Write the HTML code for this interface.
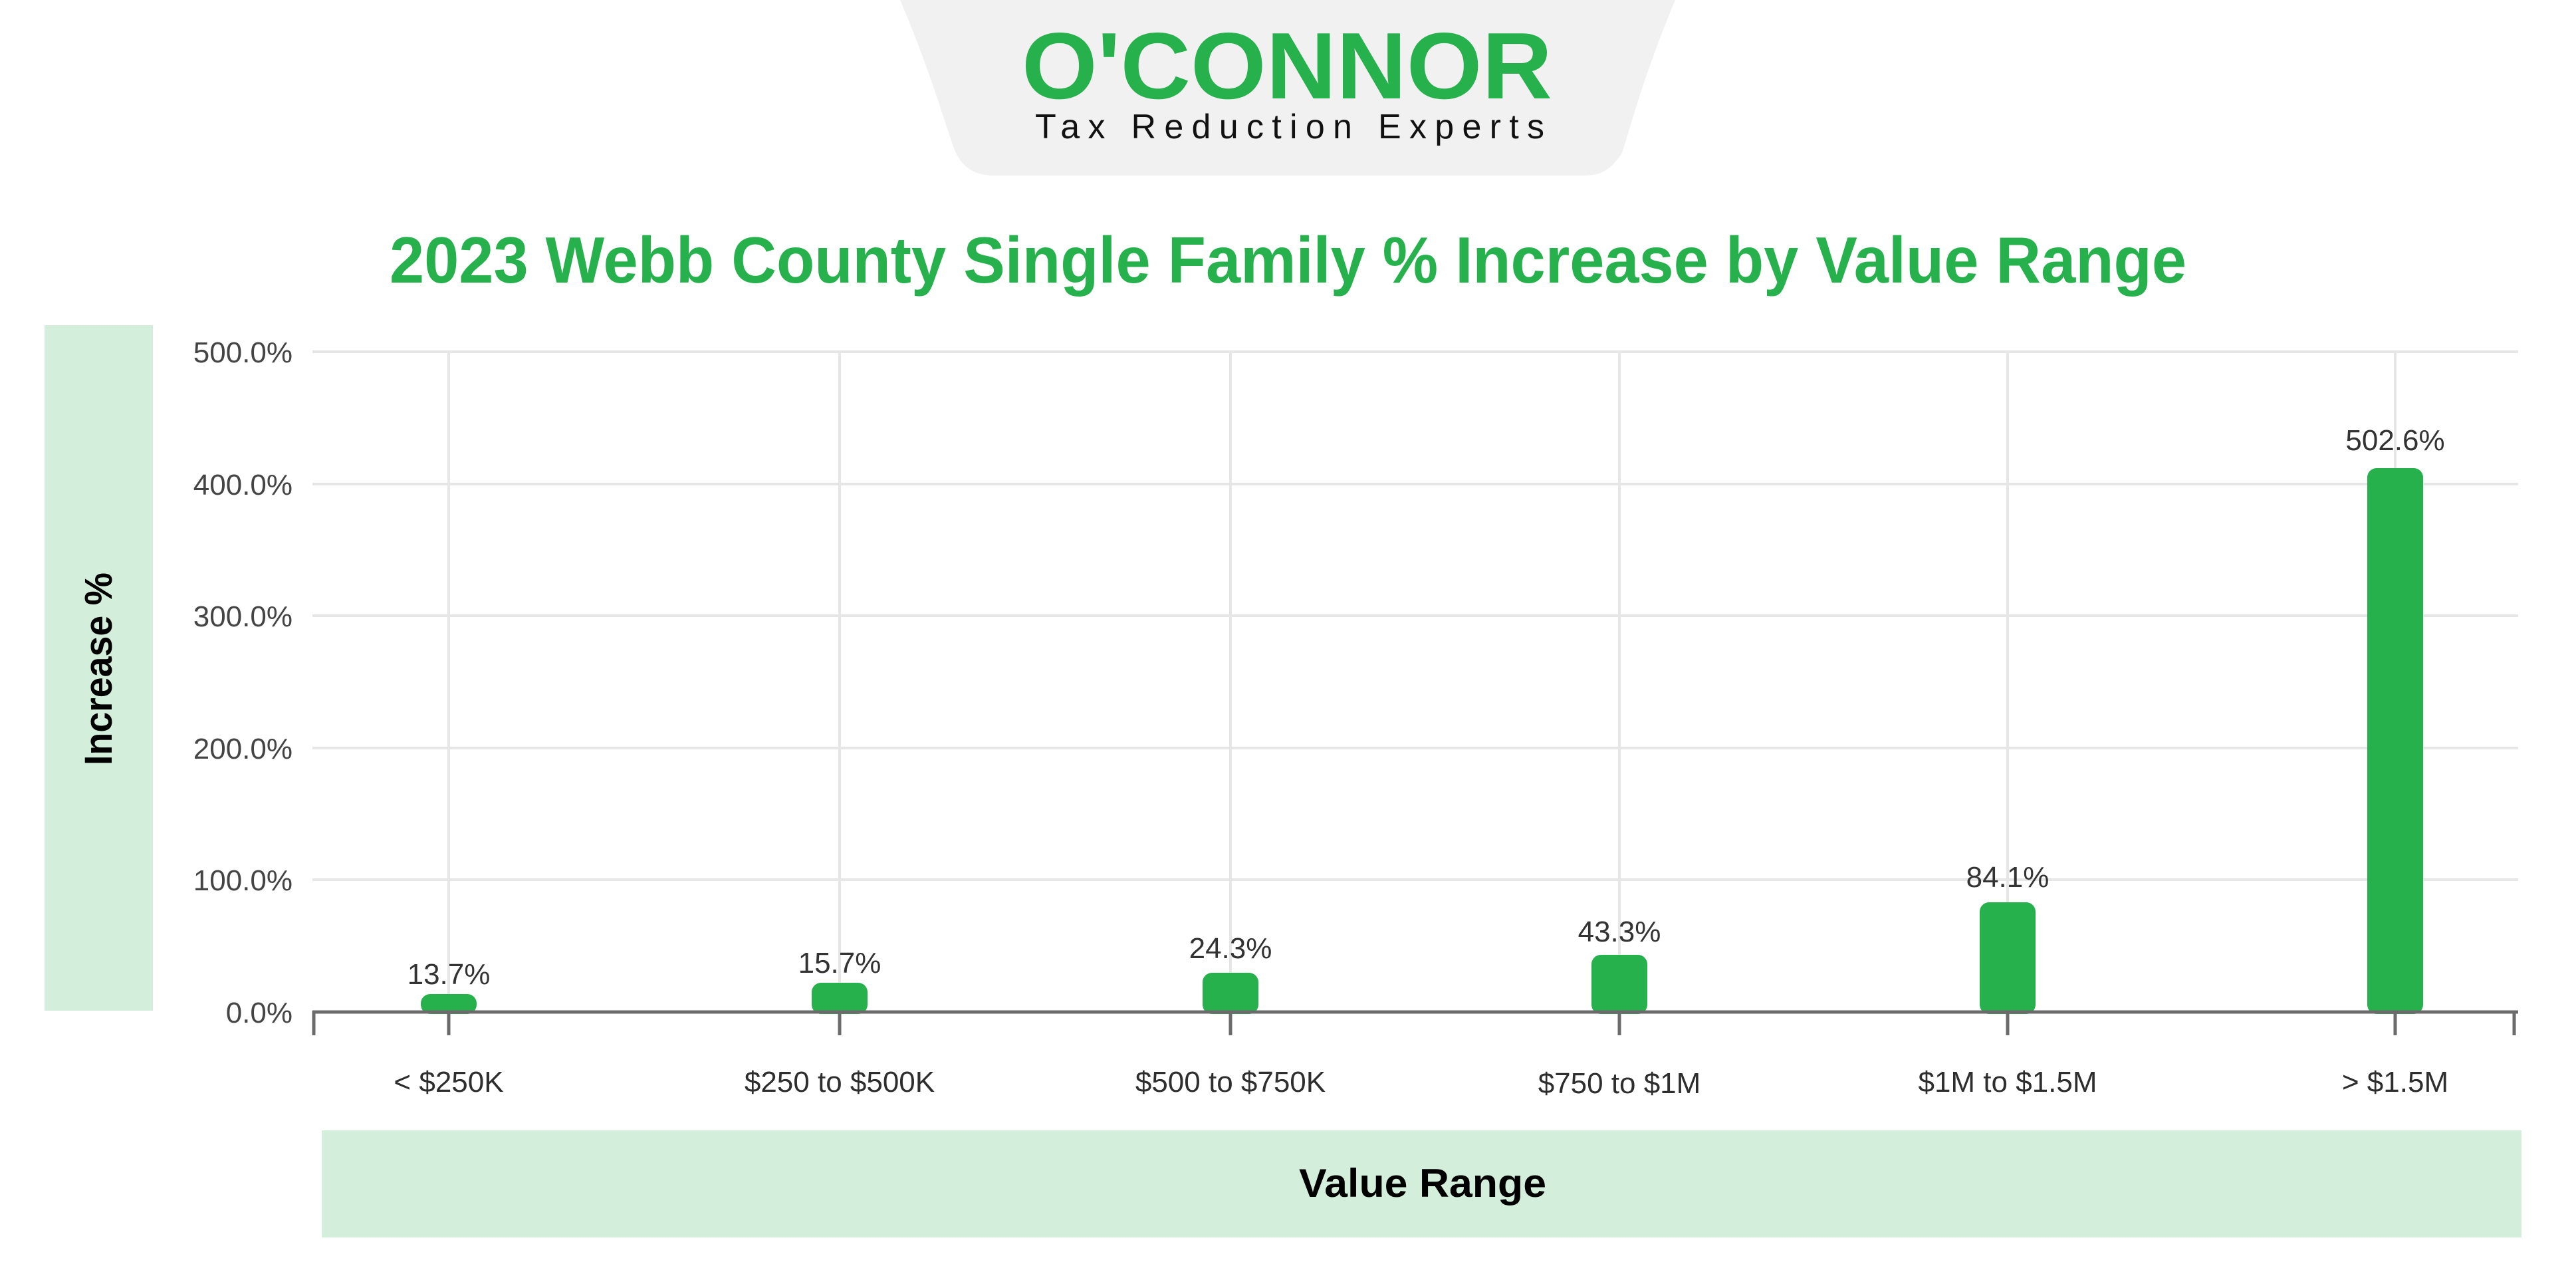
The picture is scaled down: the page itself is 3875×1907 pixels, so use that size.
<!DOCTYPE html>
<html><head><meta charset="utf-8"><style>
html,body{margin:0;padding:0;background:#fff;}
svg{display:block;font-family:"Liberation Sans",sans-serif;}
</style></head><body>
<svg width="3875" height="1907" viewBox="0 0 3875 1907" xmlns="http://www.w3.org/2000/svg">
<path d="M1354 0 L2520 0 C2470 120 2450 200 2440 230 C2420 262 2400 264 2380 264 L1495 264 C1470 264 1450 255 1438 230 C1425 200 1405 120 1354 0 Z" fill="#f1f1f1"/>
<text x="1537" y="148" font-size="142" font-weight="bold" fill="#27b14d" textLength="798" lengthAdjust="spacingAndGlyphs">O'CONNOR</text>
<text x="1557" y="208" font-size="52" fill="#111" textLength="766" lengthAdjust="spacing">Tax Reduction Experts</text>
<text x="586" y="425" font-size="98" font-weight="bold" fill="#27b14d" textLength="2703" lengthAdjust="spacingAndGlyphs">2023 Webb County Single Family % Increase by Value Range</text>
<rect x="67" y="489" width="163" height="1031" fill="#d4eedc"/>
<text transform="translate(168,1006) rotate(-90)" text-anchor="middle" font-size="58" font-weight="bold" fill="#000" textLength="290" lengthAdjust="spacingAndGlyphs">Increase %</text>
<g stroke="#e6e6e6" stroke-width="4">
<line x1="470" y1="529" x2="3788" y2="529"/>
<line x1="470" y1="728" x2="3788" y2="728"/>
<line x1="470" y1="926" x2="3788" y2="926"/>
<line x1="470" y1="1125" x2="3788" y2="1125"/>
<line x1="470" y1="1323" x2="3788" y2="1323"/>
<line x1="675" y1="529" x2="675" y2="1522"/>
<line x1="1263" y1="529" x2="1263" y2="1522"/>
<line x1="1851" y1="529" x2="1851" y2="1522"/>
<line x1="2436" y1="529" x2="2436" y2="1522"/>
<line x1="3020" y1="529" x2="3020" y2="1522"/>
<line x1="3603" y1="529" x2="3603" y2="1522"/>
</g>
<g font-size="44" fill="#444" text-anchor="end">
<text x="440" y="545">500.0%</text>
<text x="440" y="744">400.0%</text>
<text x="440" y="942">300.0%</text>
<text x="440" y="1141">200.0%</text>
<text x="440" y="1339">100.0%</text>
<text x="440" y="1538">0.0%</text>
</g>
<g fill="#27b14d">
<rect x="633" y="1495" width="84" height="30" rx="14"/>
<rect x="1221" y="1478" width="84" height="47" rx="14"/>
<rect x="1809" y="1463" width="84" height="62" rx="14"/>
<rect x="2394" y="1436" width="84" height="89" rx="14"/>
<rect x="2978" y="1357" width="84" height="168" rx="14"/>
<rect x="3561" y="704" width="84" height="821" rx="14"/>
</g>
<g stroke="#6b6b6b" stroke-width="5">
<line x1="470" y1="1522" x2="3788" y2="1522"/>
<line x1="472" y1="1520" x2="472" y2="1557"/>
<line x1="675" y1="1520" x2="675" y2="1557"/>
<line x1="1263" y1="1520" x2="1263" y2="1557"/>
<line x1="1851" y1="1520" x2="1851" y2="1557"/>
<line x1="2436" y1="1520" x2="2436" y2="1557"/>
<line x1="3020" y1="1520" x2="3020" y2="1557"/>
<line x1="3603" y1="1520" x2="3603" y2="1557"/>
<line x1="3782" y1="1520" x2="3782" y2="1557"/>
</g>
<g font-size="44" fill="#333" text-anchor="middle">
<text x="675" y="1480">13.7%</text>
<text x="1263" y="1463">15.7%</text>
<text x="1851" y="1441">24.3%</text>
<text x="2436" y="1416">43.3%</text>
<text x="3020" y="1334">84.1%</text>
<text x="3603" y="677">502.6%</text>
</g>
<g font-size="44" fill="#2e2e2e" text-anchor="middle">
<text x="675" y="1642">&lt; $250K</text>
<text x="1263" y="1642">$250 to $500K</text>
<text x="1851" y="1642">$500 to $750K</text>
<text x="2436" y="1644">$750 to $1M</text>
<text x="3020" y="1642">$1M to $1.5M</text>
<text x="3603" y="1642">&gt; $1.5M</text>
</g>
<rect x="484" y="1700" width="3309" height="161" fill="#d4eedc"/>
<text x="2140" y="1800" text-anchor="middle" font-size="60" font-weight="bold" fill="#000" textLength="372" lengthAdjust="spacingAndGlyphs">Value Range</text>
</svg>
</body></html>
